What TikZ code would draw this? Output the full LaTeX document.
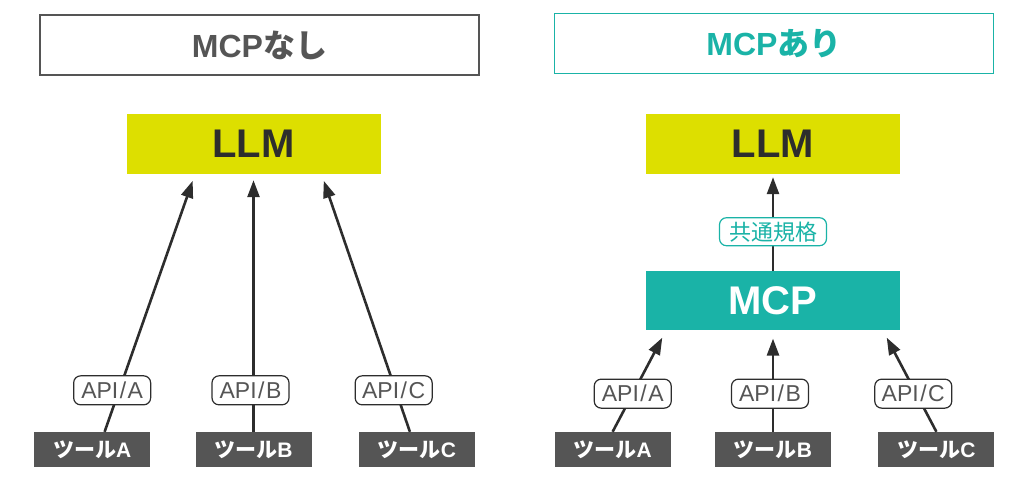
\documentclass[tikz,border=0pt]{standalone}
\usepackage{fontspec}
\setmainfont{Liberation Sans}
\newfontfamily\jpfont{Noto Sans CJK JP}
\usetikzlibrary{positioning}
\usetikzlibrary{arrows.meta}
\definecolor{llmColor}{RGB}{221,223,0}
\definecolor{mcpColor}{RGB}{26,179,167}
\definecolor{toolColor}{RGB}{85,85,85}
\definecolor{labelTextColor}{RGB}{85,85,85}
\definecolor{connectorColor}{RGB}{45,45,45}
\newcommand{\apiSlash}{\kern1.5pt/\kern1.5pt}
\tikzset{
	titleBox/.style = {
		draw, line width=1.4pt, minimum width=439pt, minimum height=60pt, inner sep=0pt,
		font=\fontsize{32}{32}\selectfont\bfseries
	},
	llmBox/.style = {
		fill=llmColor, text=connectorColor, minimum width=254pt, minimum height=60pt, inner sep=0pt,
		font=\fontsize{40}{40}\selectfont\bfseries
	},
	mcpBox/.style = {
		fill=mcpColor, text=white, minimum width=254pt, minimum height=59pt, inner sep=0pt,
		font=\fontsize{40}{40}\selectfont\bfseries
	},
	toolBox/.style = {
		fill=toolColor, text=white, minimum width=116pt, minimum height=35pt, inner sep=0pt,
		font=\fontsize{21}{21}\selectfont\bfseries
	},
	apiLabel/.style = {
		draw=connectorColor, fill=white, text=labelTextColor, line width=1.2pt, rounded corners=7pt,
		minimum width=77pt, minimum height=29pt, inner sep=0pt, font=\fontsize{23}{23}\selectfont
	},
	commonLabel/.style = {
		apiLabel, draw=mcpColor, text=mcpColor, minimum width=107pt, minimum height=28pt,
		font=\fontsize{22}{22}\selectfont\jpfont
	},
	connectorStyle/.style = {
		line width=2.6pt, draw=connectorColor
	}
}

\begin{document}
\begin{tikzpicture}[x=1pt, y=-1pt, >={Triangle[length=17pt,width=12pt]}]
	\useasboundingbox (0,0) rectangle (1024,484);

	% without MCP
	\node [titleBox, draw=toolColor, text=labelTextColor] (titleL) at (259.5,45) {MCP{\jpfont\bfseries なし}};
	\node [llmBox] (llmL) at (253.5,144) {LLM};
	\node [toolBox] (toolLB) at (253.5,449.5) {{\jpfont\bfseries ツール}B};
	\node [toolBox, left=45pt of toolLB] (toolLA) {{\jpfont\bfseries ツール}A};
	\node [toolBox, right=47pt of toolLB] (toolLC) {{\jpfont\bfseries ツール}C};

	\draw [->, connectorStyle, shorten >=7pt] ([xshift=12.5pt]toolLA.north) to node[apiLabel, pos=0.161, xshift=-7pt] {API\apiSlash A} ([xshift=-58.5pt]llmL.south);
	\draw [->, connectorStyle, shorten >=6pt] (toolLB.north) to node[apiLabel, pos=0.161, xshift=-3pt] {API\apiSlash B} (llmL.south);
	\draw [->, connectorStyle, shorten >=7pt] ([xshift=-7pt]toolLC.north) to node[apiLabel, pos=0.161, xshift=-2pt] {API\apiSlash C} ([xshift=68pt]llmL.south);

	% with MCP
	\node [titleBox, draw=mcpColor, text=mcpColor] (titleR) at (774,43.5) {MCP{\jpfont\bfseries あり}};
	\node [llmBox] (llmR) at (773,144) {LLM};
	\node [mcpBox, below=97pt of llmR] (mcp) {MCP};
	\node [toolBox] (toolRB) at (773,449.5) {{\jpfont\bfseries ツール}B};
	\node [toolBox, left=44pt of toolRB] (toolRA) {{\jpfont\bfseries ツール}A};
	\node [toolBox, right=47pt of toolRB] (toolRC) {{\jpfont\bfseries ツール}C};

	\draw [->, connectorStyle, shorten >=3pt] (mcp.north) to node[commonLabel, pos=0.407] {共通規格} (llmR.south);
	\draw [->, connectorStyle, shorten >=8pt] (toolRA.north) to node[apiLabel, pos=0.377] {API\apiSlash A} ([xshift=-107pt]mcp.south);
	\draw [->, connectorStyle, shorten >=8pt] (toolRB.north) to node[apiLabel, pos=0.377, xshift=-3pt] {API\apiSlash B} (mcp.south);
	\draw [->, connectorStyle, shorten >=8pt] (toolRC.north) to node[apiLabel, pos=0.377, xshift=-3pt] {API\apiSlash C} ([xshift=110pt]mcp.south);
\end{tikzpicture}
\end{document}
